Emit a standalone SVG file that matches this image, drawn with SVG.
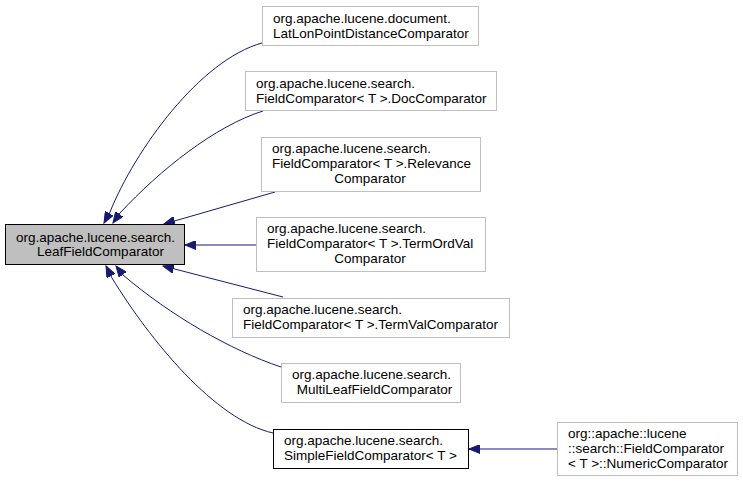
<svg xmlns="http://www.w3.org/2000/svg" width="743" height="482" viewBox="0 0 743 482">
<style>
text{font-family:"Liberation Sans",Arial,Helvetica,sans-serif;font-size:13.5px;fill:#000}
.n rect{fill:#fff;stroke:#bfbfbf;stroke-width:1}
.main rect{fill:#bfbfbf;stroke:#000}
.solid rect{stroke:#000}
.e path{fill:none;stroke:#191970;stroke-width:1;marker-end:url(#ah)}
.m{text-anchor:middle}
</style>
<defs>
<marker id="ah" markerWidth="12" markerHeight="9" refX="11" refY="4.5" orient="auto" markerUnits="userSpaceOnUse">
<path d="M0,0 L11,4.5 L0,9 z" fill="#191970" stroke="#191970" stroke-width="1"/>
</marker>
</defs>
<rect width="743" height="482" fill="#fff"/>
<g id="edges" class="e">
<path d="M262,43 C200,60 135,150 110,212 L104,223"/>
<path d="M263,111 C215,126 160,170 120,213 L113,223"/>
<path d="M275,192 L164,224"/>
<path d="M256,245 L185,245"/>
<path d="M283,297 L163,266"/>
<path d="M281,367 C230,350 170,315 123,275 L116,266"/>
<path d="M273,433 C215,420 150,340 112,278 L106,266"/>
<path d="M557,449 L469,449"/>
</g>
<g id="node0" class="n main"><rect x="5.5" y="224.5" width="179" height="40"/>
<text x="16" y="241.5">org.apache.lucene.search.</text><text x="100.5" y="256" class="m">LeafFieldComparator</text></g>
<g id="node1" class="n"><rect x="262.5" y="6.5" width="216" height="39"/>
<text x="273" y="22.5">org.apache.lucene.document.</text><text x="273" y="37.5">LatLonPointDistanceComparator</text></g>
<g id="node2" class="n"><rect x="245.5" y="71.5" width="251" height="39"/>
<text x="256" y="87.5">org.apache.lucene.search.</text><text x="256" y="102.5">FieldComparator&lt; T &gt;.DocComparator</text></g>
<g id="node3" class="n"><rect x="261.5" y="137.5" width="219" height="54"/>
<text x="272" y="153">org.apache.lucene.search.</text><text x="272" y="168">FieldComparator&lt; T &gt;.Relevance</text><text x="370" y="183" class="m">Comparator</text></g>
<g id="node4" class="n"><rect x="256.5" y="217.5" width="229" height="54"/>
<text x="267" y="233">org.apache.lucene.search.</text><text x="267" y="248">FieldComparator&lt; T &gt;.TermOrdVal</text><text x="370" y="263" class="m">Comparator</text></g>
<g id="node5" class="n"><rect x="232.5" y="298.5" width="277" height="39"/>
<text x="243" y="314">org.apache.lucene.search.</text><text x="243" y="329">FieldComparator&lt; T &gt;.TermValComparator</text></g>
<g id="node6" class="n"><rect x="281.5" y="363.5" width="179" height="39"/>
<text x="292" y="379">org.apache.lucene.search.</text><text x="374.5" y="394" class="m">MultiLeafFieldComparator</text></g>
<g id="node7" class="n solid"><rect x="273.5" y="429.5" width="195" height="39"/>
<text x="284" y="445">org.apache.lucene.search.</text><text x="284" y="460">SimpleFieldComparator&lt; T &gt;</text></g>
<g id="node8" class="n"><rect x="557.5" y="422.5" width="180" height="53"/>
<text x="568" y="438">org::apache::lucene</text><text x="568" y="453">::search::FieldComparator</text><text x="568" y="468">&lt; T &gt;::NumericComparator</text></g>
</svg>
